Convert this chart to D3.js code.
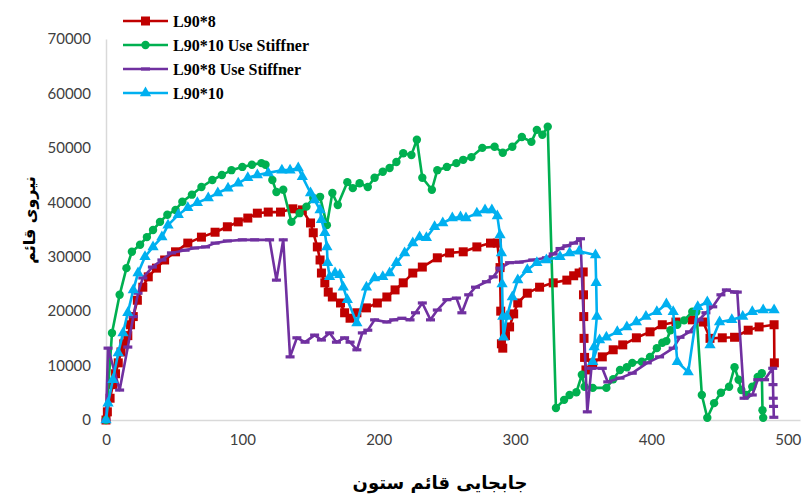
<!DOCTYPE html>
<html>
<head>
<meta charset="utf-8">
<script src="https://cdn.jsdelivr.net/npm/d3@7"></script>
<style>
  html, body { margin: 0; padding: 0; background: #fff; }
  svg { display: block; }
</style>
</head>
<body>
<svg id="chart" width="809" height="495"></svg>
<script>
// ---- data ----
const seriesNames = ["L90*8", "L90*10 Use Stiffner", "L90*8 Use Stiffner", "L90*10"];

const redX = [0,1,3,5,7,9,11,13,16,18,20,23,27,31,37,43,51,60,70,80,89,97,104,111,119,128,137,144,150,152,155,157,158,160.5,163,166,172,175,179,184,191,199,206,212,218,225,232,243,252,262,272,282,287,289,289.5,290,291,293,296,299,302,309,318,328,338,343,347,350,350.2,350.4,350.6,351,352,357,364,372,379,389,399,408,418,430,438,443,452,461,471,479,490,490.2];
const redY = [0,1500,4000,6500,8500,10500,12500,14000,15500,17500,19000,22000,24400,26300,27900,29400,30900,32500,33600,34500,35500,36400,37100,38000,38200,38200,38800,38600,36200,34400,31800,29400,27000,25200,23500,22600,21500,19700,18700,19700,20600,21500,22600,23900,25200,27000,28100,29800,30700,30900,31800,32500,32500,28000,20000,14000,13200,15500,17100,19500,21500,23300,24400,25200,25700,26500,27000,27200,23000,19000,15000,11500,9200,10500,11600,12900,13800,15100,16200,17500,18000,18400,18000,15000,15100,15200,16500,17100,17500,10500];

const greenX = [0,4.4,10,15,19,25,30,34.5,39.6,45,51,56,63,70,78,85,92,100,107,114,117,122,125,130,136,142,147,152,157,162,166,170,177,181,186,192,197,203,208,213,218,224,228,232,239,243,250,257,262,268,276,285,291,298,305,312,316,320,324,330,336,340,345,349,351,357,367,372,377,382,386,393,399,404,408,411,414,419,424,430,433,437,441,446,451,457,461,464,466,470,474,478,481,481.5,482];
const greenY = [0,16000,23000,27900,30900,32200,33600,34900,36400,37700,38600,40100,41400,42800,44100,45000,45900,46500,46900,47200,46900,44100,41900,42300,36400,38000,39200,40800,41000,35800,41700,39500,43700,42600,43500,42800,44500,45600,46300,47400,49000,48700,51500,44500,42300,45900,46500,47200,47800,48300,50000,50200,49100,50200,52000,51100,53300,52400,53900,2200,3700,4600,5100,8300,6100,5900,5900,7500,9200,9700,10500,10700,11600,13200,14200,14500,16500,17500,18300,19900,19900,4600,400,3100,5000,6100,9700,7400,5500,4600,6100,7900,8600,1800,400];

const purpleX = [0,1.5,10,16,20,23.5,27,34,41,48,58,65,73,80,89,100,109,120,125,130,135,140,146,153,158,164,169,175,179,184,188,192,197,206,211,217,223,227,232,238,243,250,257,261,266,271,279,284,289,296,303,313,323,328,333,338,343,348,353,356,364,368,377,386,397,406,416,421,428,435,440,445,451,455,461,463,468,474,478,483,489,489.2,489.4,489.6,489.8];
const purpleY = [0,13200,5500,13400,19000,23300,26100,28100,29400,30700,31200,31600,31800,32500,32900,33100,33100,33100,25700,33100,11600,15100,14300,15600,14700,16000,14300,15100,14300,12900,16000,16500,18400,18000,18400,18700,18400,19700,21500,18400,20200,22100,22400,19700,23000,24400,25400,26300,27900,28900,29000,29400,29800,30500,31500,32000,32500,33300,1500,9500,9500,7000,7700,8600,10500,11600,13200,15200,16200,18400,19700,20800,23000,23900,23500,23500,4000,4600,7400,7400,9500,6500,4000,2500,500];

const blueX = [0,1.5,5,9,12.5,16,20,23.5,28.6,34.5,41,45.5,53,60,67,75,82,89.5,97,104,111,119,129,135,141,144,150,153,157,158,160.5,162,162.5,164,168,171.5,174,177,184,191,197,203,208,213,219,225,230,235,241,247,254,260,264,272,278,283,287,289,290,290.5,291,291.5,294,298,302,309,316,323,333,340,347,359,359.5,360,358,357,362,367,375,382,389,396,404,411,416,419,427,434,441,443,450,459,467,474,482,490];
const blueY = [0,3100,7400,12300,16000,19700,23900,27000,30000,31800,33600,35800,37700,39000,39900,40800,41700,42600,43500,44500,45000,45400,45900,45900,46300,44700,41700,40400,38600,36800,34400,31800,28900,26300,27000,26700,24400,22100,17800,24400,26100,26300,27000,28900,30700,32500,33600,33500,35500,36200,37100,37300,37100,38000,38600,38600,37500,34000,30700,25000,19000,15200,19000,22600,25700,27600,28900,29400,30000,30700,31000,30300,25200,19000,13400,10700,14700,15200,16200,17100,18000,19000,19900,21300,19900,10700,8800,20800,21700,13800,18000,18400,19000,19900,20200,20200];

const xTicks = [0, 100, 200, 300, 400, 500];
const yTicks = [0, 10000, 20000, 30000, 40000, 50000, 60000, 70000];
const xTitle = "جابجایی قائم ستون";
const yTitle = "نیروی قائم";

// ---- chart ----
const svg = d3.select("#chart");
const x = d3.scaleLinear().domain([0, 509]).range([106, 800]);
const y = d3.scaleLinear().domain([0, 70000]).range([420, 39]);

const axisColor = "#d9d9d9";
const tickFont = "Lato, 'Liberation Sans', sans-serif";

// axes
const gx = svg.append("g").attr("transform", "translate(0,420)")
  .call(d3.axisBottom(x).tickValues(xTicks).tickFormat(d3.format("d")).tickSize(0).tickPadding(14).tickSizeOuter(0));
gx.select(".domain").attr("stroke", axisColor).attr("stroke-width", 1.5);
gx.selectAll("text").attr("font-family", tickFont).attr("font-size", 15).attr("fill", "#404040");

const gy = svg.append("g").attr("transform", "translate(106,0)")
  .call(d3.axisLeft(y).tickValues(yTicks).tickFormat(d3.format("d")).tickSize(0).tickPadding(15).tickSizeOuter(0));
gy.select(".domain").attr("stroke", axisColor).attr("stroke-width", 1.5);
gy.selectAll("text").attr("font-family", tickFont).attr("font-size", 15).attr("fill", "#404040");

// titles
svg.append("text").attr("x", 440).attr("y", 489).attr("text-anchor", "middle")
  .attr("font-family", "'DejaVu Sans', sans-serif").attr("font-weight", "bold")
  .attr("font-size", 18).attr("fill", "#000").attr("direction", "rtl").text(xTitle);
svg.append("text").attr("transform", "translate(35,220) rotate(-90)").attr("text-anchor", "middle")
  .attr("font-family", "'DejaVu Sans', sans-serif").attr("font-weight", "bold")
  .attr("font-size", 16).attr("fill", "#000").attr("direction", "rtl").text(yTitle);

const line = d3.line().x(d => x(d[0])).y(d => y(d[1]));

const series = [
  { name: seriesNames[0], xs: redX, ys: redY, color: "#C00000", marker: "square" },
  { name: seriesNames[1], xs: greenX, ys: greenY, color: "#00B050", marker: "circle" },
  { name: seriesNames[2], xs: purpleX, ys: purpleY, color: "#7030A0", marker: "dash" },
  { name: seriesNames[3], xs: blueX, ys: blueY, color: "#00B0F0", marker: "triangle" }
];

function drawMarker(g, type, color) {
  if (type === "square") {
    g.append("rect").attr("x", -4.5).attr("y", -4.5).attr("width", 9).attr("height", 9).attr("fill", color);
  } else if (type === "circle") {
    g.append("circle").attr("r", 4.2).attr("fill", color);
  } else if (type === "triangle") {
    g.append("path").attr("d", d3.symbol().type(d3.symbolTriangle).size(55)()).attr("fill", color);
  } else if (type === "dash") {
    g.append("rect").attr("x", -4.5).attr("y", -1.6).attr("width", 9).attr("height", 3.2).attr("fill", color);
  }
}

series.forEach(s => {
  const pts = s.xs.map((v, i) => [v, s.ys[i]]);
  const g = svg.append("g");
  g.append("path").datum(pts).attr("d", line).attr("fill", "none")
    .attr("stroke", s.color).attr("stroke-width", 2.6).attr("stroke-linejoin", "round");
  pts.forEach(p => {
    const m = g.append("g").attr("transform", `translate(${x(p[0])},${y(p[1])})`);
    drawMarker(m, s.marker, s.color);
  });
});

// legend
const legendY = [21, 45, 69, 93];
series.forEach((s, i) => {
  const g = svg.append("g").attr("transform", `translate(123,${legendY[i]})`);
  g.append("line").attr("x1", 0).attr("x2", 45).attr("y1", 0).attr("y2", 0)
    .attr("stroke", s.color).attr("stroke-width", 2.6);
  const m = g.append("g").attr("transform", "translate(22.5,0)");
  drawMarker(m, s.marker, s.color);
  g.append("text").attr("x", 50).attr("y", 5.5)
    .attr("font-family", "'Liberation Serif', 'Times New Roman', serif")
    .attr("font-weight", "bold").attr("font-size", 16).attr("fill", "#000").text(s.name);
});
</script>
</body>
</html>
